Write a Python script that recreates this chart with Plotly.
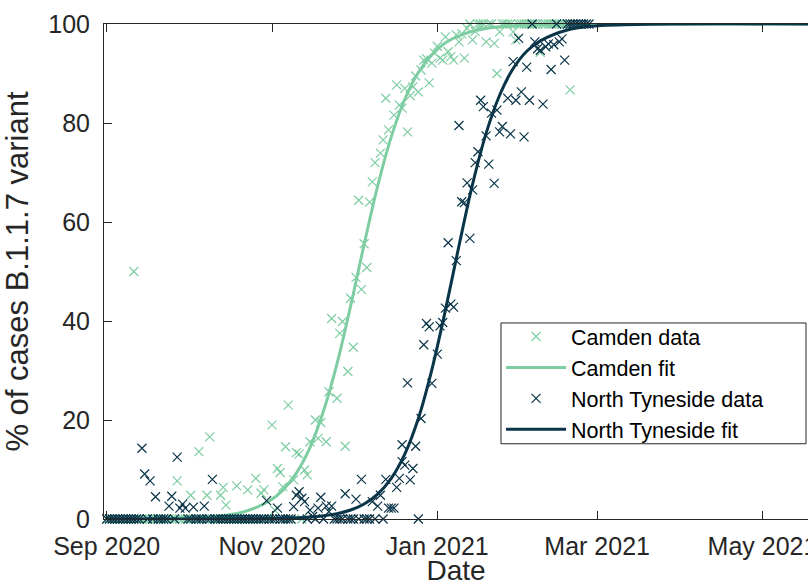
import pandas as pd
import plotly.graph_objects as go

START = pd.Timestamp("2020-09-01")

# ---- Camden data (days after 1 Sep 2020, % B.1.1.7) ----
cam_day = [0, 1, 2, 3, 4, 5, 6, 7, 8, 9, 10, 11, 12, 13, 14, 15, 16, 17, 18, 19,
           20, 21, 22, 23, 24, 25, 26, 27, 28, 29, 30, 31, 32, 33, 34, 35, 36, 37, 38, 39,
           40, 41, 42, 43, 44, 45, 46, 47, 48, 49, 50, 51, 52, 53, 54, 55, 56, 57, 58, 59,
           60, 61, 62, 63, 64, 65, 66, 67, 68, 69, 70, 71, 72, 73, 74, 75, 77, 78, 79, 81,
           82, 83, 85, 86, 87, 88, 89, 90, 91, 92, 93, 94, 95, 96, 97, 98, 99, 101, 102, 103,
           104, 106, 107, 108, 109, 110, 111, 112, 113, 114, 115, 116, 117, 118, 119, 120, 121, 122, 123, 124,
           125, 126, 127, 128, 129, 130, 131, 132, 133, 134, 135, 136, 137, 138, 139, 140, 141, 142, 143, 144,
           145, 146, 147, 148, 149, 150, 151, 152, 153, 154, 155, 156, 157, 158, 159, 160, 161, 162, 163, 164,
           165, 166, 167, 168, 169, 170, 171, 172]
cam_pct = [0, 0, 0, 0, 0, 0, 0, 0, 0, 0, 50, 0, 0, 0, 0, 0, 0, 0, 0, 0,
           0, 0, 0, 0, 0, 0, 7.7, 0, 0, 0, 0, 4.8, 0, 0, 13.6, 0, 0, 4.8, 16.6, 0,
           0, 0, 4.8, 6.4, 2.8, 0, 0, 0, 6.7, 0, 0, 0, 5.9, 0, 0, 8.2, 0, 5.2, 5.9, 0,
           0, 19.0, 1.8, 10.2, 9.4, 6.5, 14.6, 23.0, 0, 7.9, 13.4, 13.1, 0, 9.9, 8.9, 15.6, 20.0, 16.3, 19.5, 15.6,
           25.7, 40.5, 24.4, 37.5, 39.9, 14.7, 29.8, 44.6, 34.7, 48.8, 64.4, 46.4, 55.6, 50.8, 64.0, 68.1, 72.0, 73.9, 76.6, 85.0,
           78.6, 81.6, 87.7, 83.6, 83.0, 87.0, 78.2, 85.5, 87.3, 89.5, 86.3, 90.7, 92.7, 93.0, 88.1, 92.1, 94.1, 95.5, 93.1, 92.7,
           97.4, 94.4, 93.4, 92.7, 97.8, 96.4, 98.0, 93.1, 99.1, 100, 96.8, 98.5, 100, 100, 100, 96.4, 100, 100, 96.1, 90.0,
           98.4, 100, 100, 100, 100, 98.4, 96.8, 100, 100, 100, 100, 100, 100, 100, 100, 94.3, 100, 100, 100, 100,
           100, 100, 100, 100, 100, 100, 86.7, 100]

# ---- North Tyneside data ----
nt_day = [0, 1, 2, 3, 4, 5, 6, 7, 8, 9, 10, 11, 12, 13, 14, 15, 16, 17, 18, 19,
          20, 21, 22, 23, 24, 25, 26, 27, 28, 29, 30, 31, 32, 33, 34, 35, 36, 37, 38, 39,
          40, 41, 42, 43, 44, 45, 46, 47, 48, 49, 50, 51, 52, 53, 54, 55, 56, 57, 58, 59,
          60, 61, 62, 63, 64, 65, 66, 67, 68, 69, 70, 71, 72, 73, 74, 75, 76, 77, 78, 79,
          80, 81, 82, 83, 84, 85, 86, 87, 88, 89, 90, 91, 92, 93, 94, 95, 96, 97, 98, 99,
          100, 101, 102, 103, 104, 105, 106, 107, 108, 109, 109, 110, 111, 112, 113, 114, 115, 116, 117, 118,
          119, 120, 122, 123, 124, 125, 126, 127, 128, 129, 130, 131, 132, 133, 134, 135, 136, 137, 138, 139,
          140, 141, 142, 143, 144, 145, 146, 148, 149, 150, 151, 152, 153, 154, 155, 156, 157, 158, 159, 160,
          161, 162, 163, 164, 165, 166, 167, 168, 169, 170, 171, 172, 173, 174, 175, 176, 177, 178]
nt_pct = [0, 0, 0, 0, 0, 0, 0, 0, 0, 0, 0, 0, 0, 14.3, 9.1, 0, 7.7, 0, 4.5, 0,
          0, 0, 0, 2.6, 4.6, 0, 12.5, 2.2, 3.0, 2.2, 0, 0, 2.4, 0, 0, 0, 2.6, 0, 0, 8.0,
          0, 0, 0, 0, 0, 0, 0, 0, 0, 0, 0, 0, 0, 0, 0, 0, 0, 0, 0, 3.7,
          0, 0, 0, 2.2, 0, 0, 0, 0, 0, 2.5, 4.8, 5.5, 4.2, 3.5, 0, 1.8, 0.5, 0, 2.2, 4.4,
          0, 2.6, 1.5, 2.6, 0, 0, 0, 0, 5.1, 0, 0, 0, 4.0, 0, 8.0, 0, 0, 0, 3.5, 0,
          2.6, 4.8, 0, 8.0, 2.2, 2.2, 2.2, 6.4, 8.2, 11.6, 15.0, 10.9, 27.5, 7.9, 10.2, 14.7, 0, 20.3, 35.2, 39.5,
          38.8, 27.4, 33.3, 39.0, 39.7, 42.6, 55.8, 43.4, 42.8, 52.2, 79.5, 64.1, 63.9, 67.9, 56.7, 66.5, 72.0, 74.2, 84.6, 83.3,
          77.4, 71.7, 82.0, 67.8, 82.6, 78.2, 79.3, 85.0, 77.8, 92.4, 84.6, 97.1, 86.3, 77.2, 91.3, 84.6, 100, 96.4, 95.0, 94.7,
          83.8, 95.4, 96.0, 90.8, 95.8, 100, 96.4, 97.0, 92.7, 100, 100, 100, 100, 100, 100, 100, 100, 100]

# ---- Logistic fit curves ----
fit_day = [0, 20, 40, 50, 60, 65, 70, 75, 80, 85, 90, 95, 100, 105, 110, 115, 120, 125,
           130, 135, 140, 145, 150, 155, 160, 170, 180, 200, 260]
cam_fit = [0.01, 0.07, 0.51, 1.37, 3.62, 5.84, 9.28, 14.4, 21.8, 31.4, 43.0, 55.5, 67.3, 77.2,
           84.8, 90.2, 93.8, 96.2, 97.6, 98.55, 99.1, 99.46, 99.67, 99.8, 99.88, 99.96, 99.98, 100, 100]
nt_fit = [0, 0, 0.01, 0.03, 0.08, 0.13, 0.23, 0.38, 0.64, 1.08, 1.82, 3.03, 5.02, 8.2,
          13.1, 20.3, 30.2, 42.2, 55.2, 67.6, 77.9, 85.6, 91.0, 94.5, 96.6, 98.8, 99.6, 99.95, 100]

tick_dates = ["2020-09-01", "2020-11-01", "2021-01-01", "2021-03-01", "2021-05-01"]
tick_labels = ["Sep 2020", "Nov 2020", "Jan 2021", "Mar 2021", "May 2021"]
y_ticks = [0, 20, 40, 60, 80, 100]

GREEN = "#7ecda2"
DARK = "#0a3448"
AX = "#262626"
FONT = "Liberation Sans, Arial, Helvetica, sans-serif"


def to_dates(days):
    return START + pd.to_timedelta(days, unit="D")


fig = go.Figure()
fig.add_trace(go.Scatter(
    x=to_dates(cam_day), y=cam_pct, mode="markers", name="Camden data",
    marker=dict(symbol="x-thin", size=9, line=dict(color=GREEN, width=1.2), color=GREEN),
    cliponaxis=False))
fig.add_trace(go.Scatter(
    x=to_dates(fit_day), y=cam_fit, mode="lines", name="Camden fit",
    line=dict(color=GREEN, width=3, shape="spline"), cliponaxis=True))
fig.add_trace(go.Scatter(
    x=to_dates(nt_day), y=nt_pct, mode="markers", name="North Tyneside data",
    marker=dict(symbol="x-thin", size=9, line=dict(color=DARK, width=1.2), color=DARK),
    cliponaxis=False))
fig.add_trace(go.Scatter(
    x=to_dates(fit_day), y=nt_fit, mode="lines", name="North Tyneside fit",
    line=dict(color=DARK, width=3, shape="spline"), cliponaxis=True))

x_start = START - pd.Timedelta(days=1)
x_end = START + pd.Timedelta(days=258.8)

# legend frame (drawn as a layout shape so it can span the reference's wider box)
fig.add_shape(type="rect", xref="paper", yref="paper",
              x0=0.5639, x1=0.9972, y0=0.152, y1=0.396,
              line=dict(color=AX, width=1), fillcolor="white", layer="above")

fig.update_layout(
    width=808, height=586,
    margin=dict(l=104, r=0, t=24, b=67, pad=0),
    paper_bgcolor="white", plot_bgcolor="white",
    font=dict(family=FONT, size=25, color=AX),
    showlegend=True,
    legend=dict(x=0.564, y=0.41, xanchor="left", yanchor="top",
                bgcolor="rgba(0,0,0,0)", borderwidth=0,
                font=dict(family=FONT, size=21.5, color="black"),
                itemwidth=60, tracegroupgap=0),
)
fig.update_xaxes(
    type="date", range=[x_start, x_end],
    tickvals=pd.to_datetime(tick_dates), ticktext=tick_labels,
    ticks="inside", ticklen=8, tickcolor=AX, tickwidth=1,
    showline=True, linecolor=AX, linewidth=1, mirror="ticks",
    showgrid=False, zeroline=False, automargin=False,
    ticklabelstandoff=5, ticklabeloverflow="allow",
    title=dict(text="Date", font=dict(size=28, color=AX), standoff=14),
)
fig.update_yaxes(
    range=[0, 100], tickvals=y_ticks,
    ticks="inside", ticklen=8, tickcolor=AX, tickwidth=1,
    showline=True, linecolor=AX, linewidth=1, mirror=False,
    showgrid=False, zeroline=False, automargin=False,
    ticklabelstandoff=8,
    title=dict(text="% of cases B.1.1.7 variant", font=dict(size=31, color=AX), standoff=12),
)

fig.write_html("out.html")
